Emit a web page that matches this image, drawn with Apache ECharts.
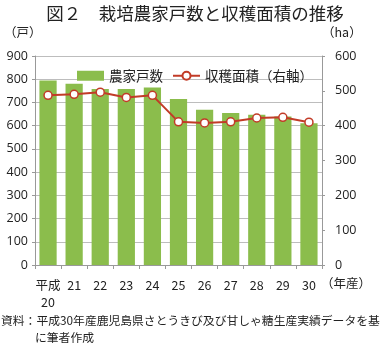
<!DOCTYPE html>
<html><head><meta charset="utf-8">
<script src="https://cdn.jsdelivr.net/npm/echarts@6/dist/echarts.min.js"></script>
<style>html,body{margin:0;padding:0;background:#fff}#c{width:390px;height:347px}</style>
</head><body><div id="c"></div>
<script>
const categories = ['平成\n20','21','22','23','24','25','26','27','28','29','30'];
const farmHouseholds = [794, 781, 758, 758, 764, 715, 669, 655, 647, 640, 610];
const harvestArea = [487, 490, 496, 481, 487, 411, 408, 411, 422, 424, 410];
const leftTicks = {min: 0, max: 900, interval: 100};
const rightTicks = {min: 0, max: 600, interval: 100};
const FONT = '"Noto Sans CJK JP", "Noto Sans", sans-serif';

const chart = echarts.init(document.getElementById('c'), null, {renderer: 'canvas'});
chart.setOption({
  animation: false,
  backgroundColor: '#fff',
  textStyle: {fontFamily: FONT},
  title: {
    text: '図２　栽培農家戸数と収穫面積の推移',
    left: 'center', top: 0,
    textStyle: {fontFamily: FONT, fontSize: 17.5, fontWeight: 'normal', color: '#222'}
  },
  legend: {
    left: 72, top: 64,
    itemWidth: 27, itemHeight: 10, itemGap: 9,
    textStyle: {fontFamily: FONT, fontSize: 13.5, color: '#222'},
    data: [
      {name: '農家戸数', icon: 'rect'},
      {name: '収穫面積（右軸）'}
    ]
  },
  grid: {left: 35, right: 68, top: 56, bottom: 82, containLabel: false},
  xAxis: {
    type: 'category',
    data: categories,
    axisLine: {lineStyle: {color: '#999'}},
    axisTick: {show: true, length: 4, lineStyle: {color: '#999'}},
    axisLabel: {interval: 0, color: '#222', fontSize: 12.5, fontFamily: FONT, margin: 12, lineHeight: 17}
  },
  yAxis: [
    {
      type: 'value', min: leftTicks.min, max: leftTicks.max, interval: leftTicks.interval,
      axisLine: {show: true, lineStyle: {color: '#999'}},
      axisTick: {show: true, length: 3, lineStyle: {color: '#999'}},
      splitLine: {show: true, lineStyle: {color: '#bdbdbd', width: 1}},
      axisLabel: {color: '#222', fontSize: 12.5, fontFamily: 'Open Sans, sans-serif', margin: 7}
    },
    {
      type: 'value', min: rightTicks.min, max: rightTicks.max, interval: rightTicks.interval,
      position: 'right',
      axisLine: {show: true, lineStyle: {color: '#999'}},
      axisTick: {show: true, length: 3, lineStyle: {color: '#999'}},
      splitLine: {show: false},
      axisLabel: {color: '#222', fontSize: 12.5, fontFamily: 'Open Sans, sans-serif', margin: 13}
    }
  ],
  series: [
    {
      name: '農家戸数', type: 'bar', yAxisIndex: 0,
      data: farmHouseholds, barWidth: '66%',
      itemStyle: {color: '#8bbd4c'}
    },
    {
      name: '収穫面積（右軸）', type: 'line', yAxisIndex: 1,
      data: harvestArea,
      symbol: 'circle', symbolSize: 8,
      lineStyle: {color: '#c23b27', width: 2},
      itemStyle: {color: '#fff', borderColor: '#c23b27', borderWidth: 1.5}
    }
  ],
  graphic: [
    {type: 'text', left: 4, top: 26, style: {text: '（戸）', fontFamily: FONT, fontSize: 12.5, fill: '#222'}},
    {type: 'text', left: 322, top: 26, style: {text: '（ha）', fontFamily: FONT, fontSize: 12.5, fill: '#222'}},
    {type: 'text', left: 321, top: 277, style: {text: '（年産）', fontFamily: FONT, fontSize: 12.5, fill: '#222'}},
    {type: 'text', left: 1, top: 315, style: {text: '資料：平成30年産鹿児島県さとうきび及び甘しゃ糖生産実績データを基', fontFamily: FONT, fontSize: 11.8, fill: '#222'}},
    {type: 'text', left: 35, top: 332, style: {text: 'に筆者作成', fontFamily: FONT, fontSize: 11.8, fill: '#222'}}
  ]
});
</script>
</body></html>
